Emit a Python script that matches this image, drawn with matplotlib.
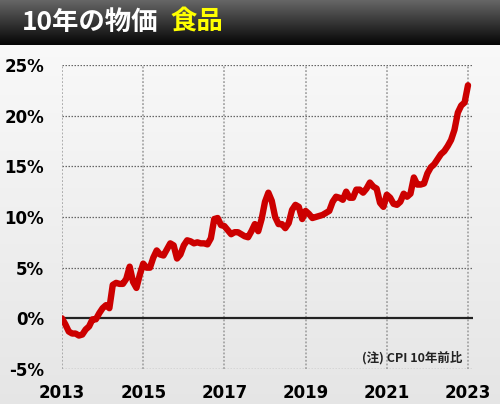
import numpy as np
import matplotlib
matplotlib.use("Agg")
from matplotlib import pyplot as plt

# monthly food CPI, change vs 10 years earlier (%), Jan 2013 .. Jan 2023
start_year = 2013
cpi_food = [
    0.0, -0.6, -1.3, -1.5, -1.5, -1.7, -1.6, -1.1, -0.8, -0.1, -0.1, 0.5,
    1.0, 1.3, 1.0, 3.3, 3.5, 3.4, 3.4, 3.9, 5.1, 3.6, 3.0, 4.3,
    5.4, 5.0, 5.0, 6.0, 6.7, 6.3, 6.2, 6.8, 7.4, 7.2, 5.9, 6.3,
    7.2, 7.7, 7.6, 7.4, 7.5, 7.4, 7.4, 7.3, 7.9, 9.8, 9.9, 9.2,
    9.1, 8.7, 8.3, 8.5, 8.5, 8.3, 8.1, 8.0, 8.6, 9.3, 8.6, 9.8,
    11.5, 12.4, 11.6, 10.0, 9.3, 9.3, 8.9, 9.4, 10.7, 11.2, 11.0, 9.8,
    10.6, 10.3, 9.9, 10.0, 10.1, 10.2, 10.4, 10.6, 11.5, 12.0, 11.9, 11.7,
    12.5, 11.9, 11.9, 12.7, 12.7, 12.4, 12.8, 13.4, 13.0, 12.8, 11.4, 11.0,
    12.2, 11.9, 11.3, 11.2, 11.5, 12.3, 12.0, 12.3, 13.9, 13.2, 13.2, 13.3,
    14.3, 14.9, 15.2, 15.7, 16.2, 16.5, 17.0, 17.6, 18.6, 20.3, 21.0, 21.3,
    23.0,
]
year_ticks = [2013, 2015, 2017, 2019, 2021, 2023]
pct_ticks = [-5, 0, 5, 10, 15, 20, 25]

plt.rcParams['font.family'] = ['DejaVu Sans']
jp = ['Noto Sans CJK JP', 'DejaVu Sans']

W, H = 500, 404
fig = plt.figure(figsize=(W / 100, H / 100), dpi=100)

# background: dark title bar + light gradient body
bg = fig.add_axes([0, 0, 1, 1], zorder=-10)
bar_h = 45
col = np.zeros((H, 3))
t = np.linspace(0, 1, bar_h)[:, None]
col[:bar_h] = (1 - t) * np.array([0.40, 0.40, 0.40]) + t * np.array([0.02, 0.02, 0.02])
t2 = np.linspace(0, 1, H - bar_h)[:, None]
col[bar_h:] = (1 - t2) * np.array([0.975, 0.975, 0.975]) + t2 * np.array([0.90, 0.90, 0.90])
img = np.repeat(col[:, None, :], 2, axis=1)
bg.imshow(img, aspect='auto', extent=[0, 1, 0, 1], interpolation='bilinear')
bg.set_axis_off()

fig.text(22 / W, 1 - 22 / H, "10年の物価", color='white', fontsize=19,
         fontweight='bold', family=jp, va='center', ha='left')
fig.text(170 / W, 1 - 22 / H, "食品", color='#ffff00', fontsize=19,
         fontweight='bold', family=jp, va='center', ha='left')

# main chart
ax = fig.add_axes([62 / W, (H - 369) / H, 411 / W, 304 / H])
ax.set_facecolor('none')
for s in ax.spines.values():
    s.set_visible(False)

x = start_year + np.arange(len(cpi_food)) / 12.0
ax.set_xlim(2013, 2023 + 5 / 40.5)
ax.set_ylim(-5, 25)

for yv in pct_ticks:
    if yv == 0:
        ax.axhline(yv, color='#222222', lw=1.6, zorder=2)
    else:
        ax.axhline(yv, color='#666666', lw=0.9, ls=(0, (1.2, 1.2)), zorder=1)
for xv in year_ticks:
    ax.axvline(xv, color='#999999', lw=1.1, ls=(0, (1.2, 1.2)), zorder=1)

ax.plot(x, cpi_food, color='#cc0000', lw=4.6, solid_capstyle='round',
        solid_joinstyle='round', zorder=3)

ax.set_xticks(year_ticks)
ax.set_xticklabels([str(v) for v in year_ticks])
ax.set_yticks(pct_ticks)
ax.set_yticklabels([f"{v}%" for v in pct_ticks])
ax.tick_params(length=0, labelsize=12, colors='black')
ax.tick_params(axis='x', pad=11)
ax.tick_params(axis='y', pad=13)
for lab in ax.get_xticklabels() + ax.get_yticklabels():
    lab.set_fontweight('bold')

ax.text(2023 - 6 / 40.5, -3.85, "(注) CPI 10年前比", family=jp, fontsize=9,
        fontweight='bold', ha='right', va='center', color='#222222')

fig.savefig("out.png", dpi=100)
